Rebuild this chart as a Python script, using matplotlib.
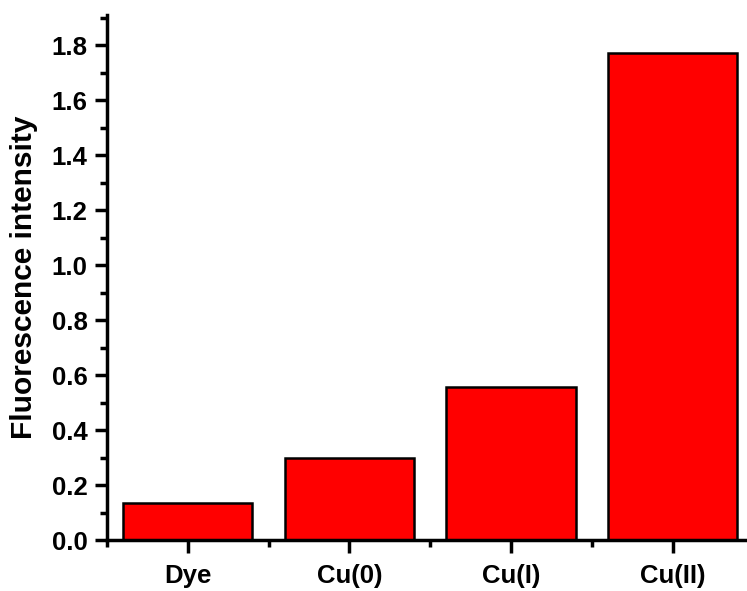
import numpy as np
import matplotlib.pyplot as plt
from matplotlib.ticker import MultipleLocator, FixedLocator

# data
categories = ['Dye', 'Cu(0)', 'Cu(I)', 'Cu(II)']
intensity = [0.135, 0.298, 0.556, 1.771]

plt.rcParams['font.family'] = ['Liberation Sans', 'DejaVu Sans']
plt.rcParams['font.weight'] = 'bold'

fig = plt.figure(figsize=(7.47, 5.91), dpi=100)
ax = fig.add_axes([107/747, 1 - 540/591, 1 - 107/747, (540 - 15)/591])

x = np.arange(len(categories))
ax.bar(x, intensity, width=0.8, color='#ff0000', edgecolor='black', linewidth=1.8)

ax.set_xlim(-0.5, 3.46)
ax.set_ylim(0, 1.91)

ax.set_xticks(x)
ax.set_xticklabels(categories)
ax.xaxis.set_minor_locator(FixedLocator(np.arange(-0.5, 4, 1.0)))
ax.yaxis.set_major_locator(MultipleLocator(0.2))
ax.yaxis.set_minor_locator(MultipleLocator(0.1))
ax.yaxis.set_major_formatter(plt.FormatStrFormatter('%.1f'))

for s in ['top', 'right']:
    ax.spines[s].set_visible(False)
for s in ['left', 'bottom']:
    ax.spines[s].set_linewidth(2.5)

ax.tick_params(which='major', direction='out', length=9, width=2.5, labelsize=18.5, pad=5)
ax.tick_params(which='minor', direction='out', length=5, width=2.5)
ax.tick_params(axis='x', which='major', pad=8)
for lab in ax.get_xticklabels() + ax.get_yticklabels():
    lab.set_fontweight('bold')

ax.set_ylabel('Fluorescence intensity', fontsize=21.5, fontweight='bold', labelpad=10)

plt.savefig('out.png', dpi=100)
